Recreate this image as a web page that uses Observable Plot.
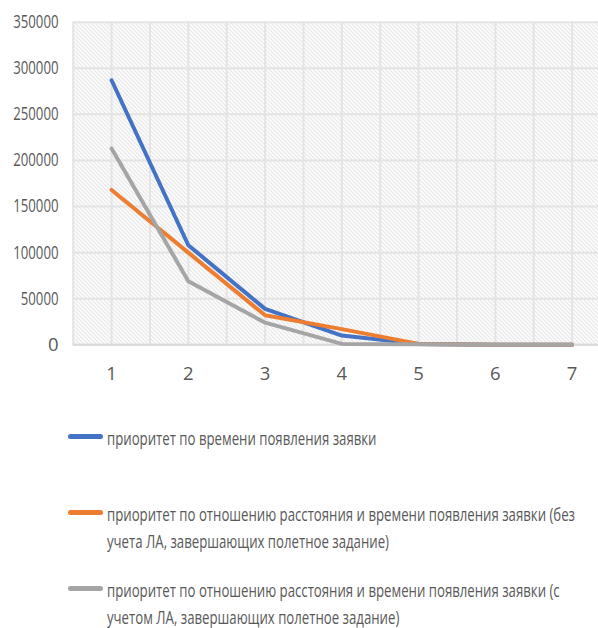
<!DOCTYPE html>
<html>
<head>
<meta charset="utf-8">
<script src="https://cdn.jsdelivr.net/npm/d3@7"></script>
<script src="https://cdn.jsdelivr.net/npm/@observablehq/plot@0.6"></script>
<style>
  html, body { margin: 0; padding: 0; background: #fff; overflow: hidden; }
  #wrap {
    position: relative; width: 598px; height: 628px; overflow: hidden;
    font-family: "Open Sans", sans-serif;
    color: #595959;
  }
  #chart { position: absolute; left: 0; top: 0; width: 610px; }
  #chart svg { max-width: none !important; }
  .item { position: absolute; left: 0; width: 598px; }
  .swatch { position: absolute; left: 68px; width: 35px; height: 5px; border-radius: 2.5px; }
  .label {
    position: absolute; left: 107px; font-size: 18.5px; line-height: 27px;
    white-space: nowrap; transform-origin: 0 0;
  }
</style>
</head>
<body>
<div id="wrap">
  <div id="chart"></div>
  <div id="legend"></div>
</div>
<script>
// Categories along the x axis
const categories = [1, 2, 3, 4, 5, 6, 7];

// Series values
const byArrivalTime = [287000, 108000, 39000, 10000, 1000, 0, 0];
const ratioWithoutFinishing = [168000, 100000, 32000, 17000, 1000, 0, 0];
const ratioWithFinishing = [213000, 69000, 24000, 1000, 500, 0, 0];

// Series names and colours
const seriesNames = [
  "приоритет по времени появления заявки",
  "приоритет по отношению расстояния и времени появления заявки (без\nучета ЛА, завершающих полетное задание)",
  "приоритет по отношению расстояния и времени появления заявки (с\nучетом ЛА, завершающих полетное задание)"
];
const seriesColors = ["#4472C4", "#ED7D31", "#A5A5A5"];

// Axis ticks
const yTicks = [0, 50000, 100000, 150000, 200000, 250000, 300000, 350000];
const xGrid = [0.5, 1, 1.5, 2, 2.5, 3, 3.5, 4, 4.5, 5, 5.5, 6, 6.5, 7, 7.5];

const seriesValues = [byArrivalTime, ratioWithoutFinishing, ratioWithFinishing];
const rows = seriesValues.flatMap((vals, i) =>
  categories.map((c, j) => ({ x: c, y: vals[j], series: seriesNames[i] }))
);

// Narrow the typeface: horizontal squeeze so the long legend line spans 468px
const canvas = document.createElement("canvas").getContext("2d");
canvas.font = '18.5px "Open Sans"';
const squeeze = 468 / canvas.measureText(seriesNames[1].split("\n")[0]).width;

const chart = Plot.plot({
  width: 610,
  height: 400,
  marginLeft: 72.7,
  marginRight: 0,
  marginTop: 21.7,
  marginBottom: 55.7,
  style: {
    fontFamily: '"Open Sans", sans-serif',
    fontSize: "18.5px",
    color: "#595959",
    background: "transparent",
    overflow: "visible"
  },
  x: {
    type: "linear",
    domain: [0.5, 7.5],
    ticks: categories,
    tickFormat: d => String(d),
    tickSize: 0,
    tickPadding: 22,
    label: null
  },
  y: {
    domain: [0, 350000],
    ticks: yTicks,
    tickFormat: d => String(d),
    tickSize: 0,
    tickPadding: 14.7,
    label: null
  },
  color: { domain: seriesNames, range: seriesColors },
  marks: [
    Plot.frame({ fill: "url(#hatch)", stroke: null }),
    Plot.ruleY(yTicks, { stroke: "#e4e4e4", strokeWidth: 2 }),
    Plot.ruleX(xGrid, { stroke: "#e4e4e4", strokeWidth: 2 }),
    Plot.ruleY([0], { stroke: "#d9d9d9", strokeWidth: 2 }),
    Plot.line(rows, {
      x: "x", y: "y", z: "series", stroke: "series",
      strokeWidth: 4, strokeLinejoin: "round", strokeLinecap: "round"
    })
  ]
});
chart.style.maxWidth = "none";
chart.style.width = "610px";
chart.style.height = "400px";

// Diagonal hatch pattern for the plot background
const ns = "http://www.w3.org/2000/svg";
const defs = document.createElementNS(ns, "defs");
const pattern = document.createElementNS(ns, "pattern");
pattern.setAttribute("id", "hatch");
pattern.setAttribute("patternUnits", "userSpaceOnUse");
pattern.setAttribute("width", "4");
pattern.setAttribute("height", "4");
const bg = document.createElementNS(ns, "rect");
bg.setAttribute("width", "4");
bg.setAttribute("height", "4");
bg.setAttribute("fill", "#ffffff");
const hatchPath = document.createElementNS(ns, "path");
hatchPath.setAttribute("d", "M-1,-1 L5,5 M-1,3 L1,5 M3,-1 L5,1");
hatchPath.setAttribute("stroke", "#d2d2d2");
hatchPath.setAttribute("stroke-width", "1");
pattern.appendChild(bg);
pattern.appendChild(hatchPath);
defs.appendChild(pattern);
chart.insertBefore(defs, chart.firstChild);
chart.querySelectorAll('[aria-label="frame"], [aria-label="frame"] rect').forEach(el => {
  el.setAttribute("fill", "url(#hatch)");
});
document.getElementById("chart").appendChild(chart);

// Squeeze the multi-digit y tick labels the same way
chart.querySelectorAll("text").forEach(t => {
  if (t.textContent.length < 2) return;
  const len = t.getComputedTextLength();
  if (len > 0) {
    t.setAttribute("textLength", (len * squeeze).toFixed(2));
    t.setAttribute("lengthAdjust", "spacingAndGlyphs");
  }
});

// Legend below the chart
const legendTops = [423.5, 500, 576];
const legend = document.getElementById("legend");
seriesNames.forEach((name, i) => {
  const item = document.createElement("div");
  item.className = "item";
  item.style.top = legendTops[i] + "px";
  const sw = document.createElement("div");
  sw.className = "swatch";
  sw.style.background = seriesColors[i];
  sw.style.top = (12.5 - 2.5) + "px";
  const lab = document.createElement("div");
  lab.className = "label";
  lab.style.transform = `scaleX(${squeeze.toFixed(4)})`;
  name.split("\n").forEach((line, k) => {
    if (k) lab.appendChild(document.createElement("br"));
    lab.appendChild(document.createTextNode(line));
  });
  item.appendChild(sw);
  item.appendChild(lab);
  legend.appendChild(item);
});
</script>
</body>
</html>
